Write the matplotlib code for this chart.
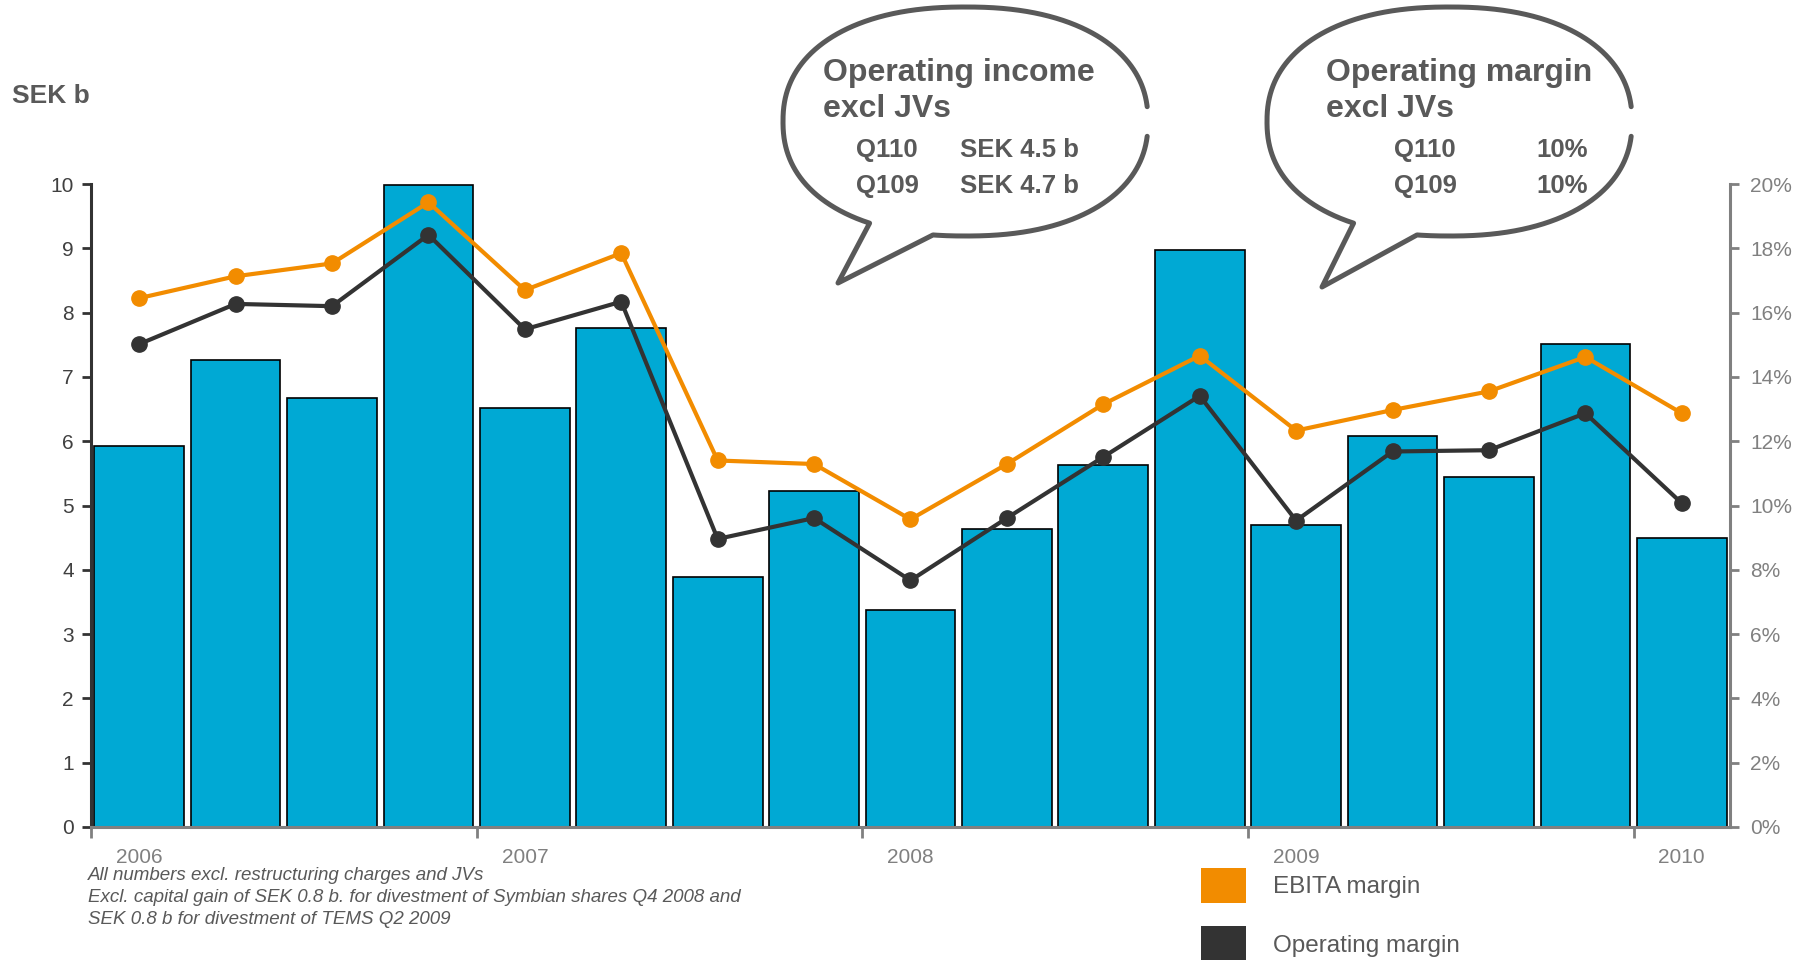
import numpy as np
import matplotlib
matplotlib.use('Agg')
import matplotlib.pyplot as plt
from matplotlib.patches import Patch

plt.rcParams['font.family'] = ['Liberation Sans', 'DejaVu Sans']

# Quarterly figures, Q1 2006 - Q1 2010
years = ['2006', '2007', '2008', '2009', '2010']
operating_income = [5.93, 7.26, 6.67, 9.98, 6.52, 7.76, 3.89, 5.23, 3.37,
                    4.64, 5.63, 8.98, 4.70, 6.08, 5.45, 7.51, 4.50]
ebita_margin = [16.45, 17.13, 17.53, 19.43, 16.70, 17.85, 11.40, 11.29, 9.57,
                11.29, 13.15, 14.66, 12.33, 12.97, 13.55, 14.62, 12.87]
operating_margin = [15.02, 16.27, 16.20, 18.42, 15.48, 16.34, 8.96, 9.61, 7.67,
                    9.61, 11.51, 13.41, 9.53, 11.68, 11.72, 12.87, 10.07]

income_rows = [('Q110', 'SEK 4.5 b'), ('Q109', 'SEK 4.7 b')]
margin_rows = [('Q110', '10%'), ('Q109', '10%')]
footnotes = ['All numbers excl. restructuring charges and JVs',
             'Excl. capital gain of SEK 0.8 b. for divestment of Symbian shares Q4 2008 and',
             'SEK 0.8 b for divestment of TEMS Q2 2009']

# Colours
BAR_BLUE = '#00A9D4'
ORANGE = '#F28C00'
DARK = '#333333'
GREY = '#808080'
TEXT_GREY = '#595959'

W, H = 1806, 960


def draw_bubble(ov, left, top, width, height, tail, gap):
    # speech bubble outline: superellipse with a tail and a small gap on the right
    cx, cy = left + width / 2, top + height / 2
    a, b = width / 2, height / 2
    t = np.linspace(0, 2 * np.pi, 1441)
    c, s = np.cos(t), np.sin(t)
    n = 2.25
    x = cx + a * np.sign(c) * np.abs(c) ** (2 / n)
    y = cy + b * np.sign(s) * np.abs(s) ** (2 / n)

    keep = ~((c > 0) & (y > gap[0]) & (y < gap[1]))
    xl, xr, tip_x, tip_y = tail
    in_tail = keep & (s > 0) & (x > xl) & (x < xr)
    idx = np.where(in_tail)[0]
    order = np.arange(len(t))
    before = keep & (order < idx[0])
    after = keep & (order > idx[-1])
    xs = np.concatenate([x[before], [tip_x], x[after]])
    ys = np.concatenate([y[before], [tip_y], y[after]])
    ov.plot(xs, ys, color=TEXT_GREY, lw=3.6, solid_capstyle='round',
            solid_joinstyle='round')


fig = plt.figure(figsize=(W / 100, H / 100), dpi=100)
fig.patch.set_facecolor('white')

ax = fig.add_axes([91 / W, 1 - 827 / H, (1730 - 91) / W, (827 - 184) / H])
x = np.arange(len(operating_income))

# Bars: operating income, SEK b
ax.bar(x, operating_income, width=0.93, color=BAR_BLUE, edgecolor='black',
       linewidth=1.2, zorder=2)
ax.set_xlim(-0.5, len(x) - 0.5)
ax.set_ylim(0, 10)
ax.set_yticks(range(0, 11))
ax.tick_params(axis='y', length=6.5, width=2, color=DARK, labelsize=15,
               labelcolor='#404040', pad=6)

# year boundaries as ticks, year names under the first quarter
ax.set_xticks(np.arange(-0.5, len(x), 4))
ax.set_xticklabels([''] * len(years))
ax.set_xticks(np.arange(0, len(x), 4), minor=True)
ax.set_xticklabels(years, minor=True)
ax.tick_params(axis='x', which='major', length=8, width=2, color=GREY)
ax.tick_params(axis='x', which='minor', length=0, pad=15, labelsize=15,
               labelcolor=GREY)

ax.spines['top'].set_visible(False)
ax.spines['right'].set_visible(False)
ax.spines['left'].set_color(DARK)
ax.spines['left'].set_linewidth(2.2)
ax.spines['bottom'].set_color(GREY)
ax.spines['bottom'].set_linewidth(2.2)
ax.spines['bottom'].set_zorder(3)

# Margins on the right axis
ax2 = ax.twinx()
ax2.plot(x, ebita_margin, color=ORANGE, lw=3, marker='o', ms=11, zorder=3)
ax2.plot(x, operating_margin, color=DARK, lw=3, marker='o', ms=11, zorder=4)
ax2.set_ylim(0, 20)
ax2.set_yticks(range(0, 21, 2))
ax2.set_yticklabels([f'{v}%' for v in range(0, 21, 2)])
ax2.tick_params(axis='y', length=6.5, width=2, color=GREY, labelsize=15,
                labelcolor=GREY, pad=8)
for side in ['top', 'left', 'bottom']:
    ax2.spines[side].set_visible(False)
ax2.spines['right'].set_color(GREY)
ax2.spines['right'].set_linewidth(2.2)

# Legend
handles = [Patch(facecolor=ORANGE, edgecolor='none', label='EBITA margin'),
           Patch(facecolor=DARK, edgecolor='none', label='Operating margin')]
fig.legend(handles=handles, loc='upper left',
           bbox_to_anchor=(1201 / W, 1 - 868 / H), bbox_transform=fig.transFigure,
           frameon=False, fontsize=17.5, labelcolor=TEXT_GREY, borderpad=0,
           borderaxespad=0, handlelength=1.85, handleheight=1.85,
           labelspacing=0.95, handletextpad=1.11)

# Overlay in pixel coordinates for labels, notes and bubbles
ov = fig.add_axes([0, 0, 1, 1])
ov.set_xlim(0, W)
ov.set_ylim(H, 0)
ov.axis('off')
ov.patch.set_alpha(0)

ov.text(12, 96, 'SEK b', fontsize=19, fontweight='bold', color=TEXT_GREY,
        va='center', ha='left')

for i, line in enumerate(footnotes):
    ov.text(88, 876 + 22 * i, line, fontsize=13.5, style='italic',
            color=TEXT_GREY, va='center', ha='left')

draw_bubble(ov, 783, 7, 365, 229, (870, 933, 838, 283), (107, 136))
draw_bubble(ov, 1267, 7, 365, 229, (1354, 1417, 1322, 287), (107, 136))

ov.text(823, 81, 'Operating income', fontsize=23, fontweight='bold',
        color=TEXT_GREY, va='baseline')
ov.text(823, 117, 'excl JVs', fontsize=23, fontweight='bold',
        color=TEXT_GREY, va='baseline')
for i, (q, val) in enumerate(income_rows):
    ov.text(856, 157 + 36 * i, q, fontsize=18.5, fontweight='bold',
            color=TEXT_GREY, va='baseline')
    ov.text(960, 157 + 36 * i, val, fontsize=18.5, fontweight='bold',
            color=TEXT_GREY, va='baseline')

ov.text(1326, 81, 'Operating margin', fontsize=23, fontweight='bold',
        color=TEXT_GREY, va='baseline')
ov.text(1326, 117, 'excl JVs', fontsize=23, fontweight='bold',
        color=TEXT_GREY, va='baseline')
for i, (q, val) in enumerate(margin_rows):
    ov.text(1394, 157 + 36 * i, q, fontsize=18.5, fontweight='bold',
            color=TEXT_GREY, va='baseline')
    ov.text(1588, 157 + 36 * i, val, fontsize=18.5, fontweight='bold',
            color=TEXT_GREY, va='baseline', ha='right')

fig.savefig('out.png', dpi=100, facecolor='white')
